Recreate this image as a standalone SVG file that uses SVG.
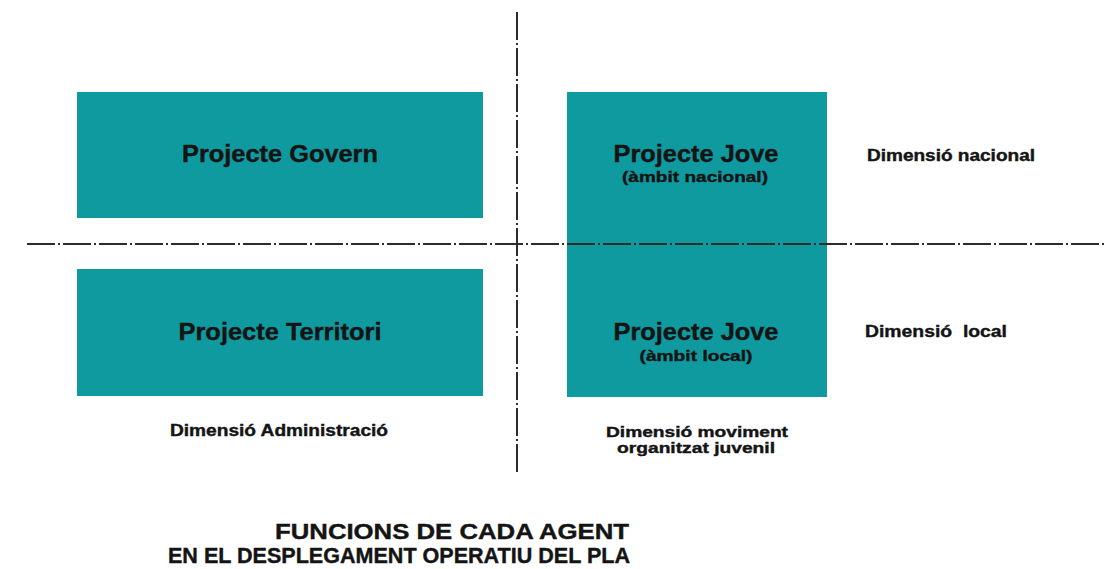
<svg xmlns="http://www.w3.org/2000/svg" width="1104" height="569" viewBox="0 0 1104 569">
<style>
.box{fill:#0f9aa0;}
.t{font-family:"Liberation Sans",Arial,sans-serif;font-weight:bold;fill:#141414;stroke:#141414;stroke-width:0.4;}
.axis{stroke:#2e2a2a;stroke-width:2;stroke-dasharray:28 3 2 3;fill:none;}
</style>
<rect width="1104" height="569" fill="#ffffff"/>
<g id="node-govern">
<rect class="box" x="77" y="92" width="406" height="126"/>
<text class="t" x="280" y="162" font-size="23" text-anchor="middle" textLength="196" lengthAdjust="spacingAndGlyphs">Projecte Govern</text>
</g>
<g id="node-territori">
<rect class="box" x="77" y="269" width="406" height="127"/>
<text class="t" x="280" y="340" font-size="23" text-anchor="middle" textLength="203" lengthAdjust="spacingAndGlyphs">Projecte Territori</text>
</g>
<g id="node-jove">
<rect class="box" x="567" y="92" width="260" height="305"/>
<text class="t" x="696" y="162" font-size="23" text-anchor="middle" textLength="165" lengthAdjust="spacingAndGlyphs">Projecte Jove</text>
<text class="t" x="695" y="182" font-size="15" text-anchor="middle" textLength="146" lengthAdjust="spacingAndGlyphs">(àmbit nacional)</text>
<text class="t" x="696" y="340" font-size="23" text-anchor="middle" textLength="165" lengthAdjust="spacingAndGlyphs">Projecte Jove</text>
<text class="t" x="696" y="361" font-size="15" text-anchor="middle" textLength="113" lengthAdjust="spacingAndGlyphs">(àmbit local)</text>
</g>
<g id="connectors">
<line class="axis" x1="27" y1="244" x2="1104" y2="244"/>
<line class="axis" x1="517" y1="12" x2="517" y2="473"/>
</g>
<g id="labels">
<text class="t" x="867" y="161" font-size="16.5" textLength="168" lengthAdjust="spacingAndGlyphs">Dimensió nacional</text>
<text class="t" x="865" y="337" font-size="16.5" textLength="142" lengthAdjust="spacingAndGlyphs" xml:space="preserve">Dimensió  local</text>
<text class="t" x="170" y="436" font-size="16" textLength="218" lengthAdjust="spacingAndGlyphs">Dimensió Administració</text>
<text class="t" x="697" y="437" font-size="15" text-anchor="middle" textLength="182" lengthAdjust="spacingAndGlyphs">Dimensió moviment</text>
<text class="t" x="696" y="453" font-size="15" text-anchor="middle" textLength="158" lengthAdjust="spacingAndGlyphs">organitzat juvenil</text>
<text class="t" x="275" y="539" font-size="21.5" textLength="354" lengthAdjust="spacingAndGlyphs">FUNCIONS DE CADA AGENT</text>
<text class="t" x="168" y="563" font-size="21.5" textLength="462" lengthAdjust="spacingAndGlyphs">EN EL DESPLEGAMENT OPERATIU DEL PLA</text>
</g>
</svg>
